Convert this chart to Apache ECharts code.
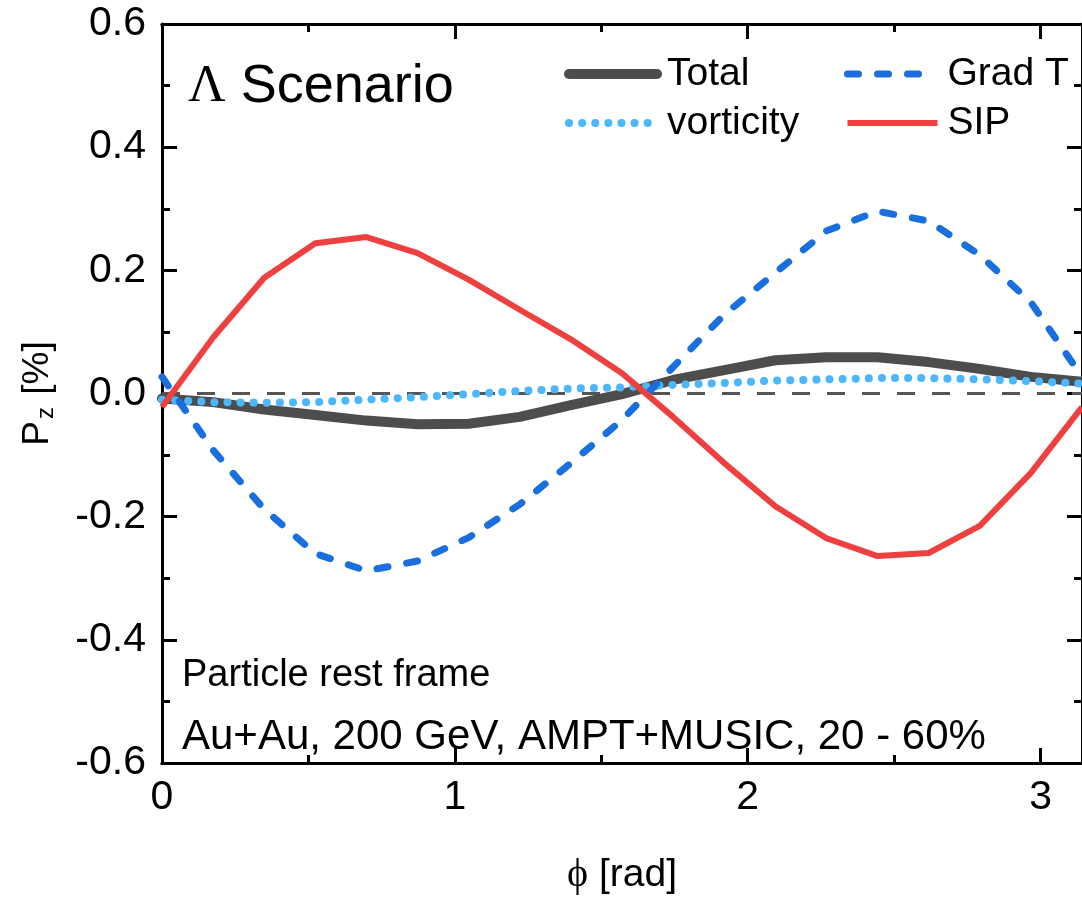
<!DOCTYPE html>
<html>
<head>
<meta charset="utf-8">
<title>Lambda polarization P_z vs azimuthal angle</title>
<script src="https://cdn.jsdelivr.net/npm/echarts@6/dist/echarts.min.js"></script>
<style>
  html, body { margin: 0; padding: 0; background: #ffffff; }
  #chart { width: 1082px; height: 900px; }
</style>
</head>
<body>
<div id="chart"></div>
<script>
// Azimuthal angle phi [rad], sampled in steps of pi/18 from 0 to pi
const phi = [0.0000, 0.1745, 0.3491, 0.5236, 0.6981, 0.8727, 1.0472, 1.2217, 1.3963, 1.5708,
             1.7453, 1.9199, 2.0944, 2.2689, 2.4435, 2.6180, 2.7925, 2.9671, 3.1416];

// Longitudinal polarization P_z [%] for each contribution
const total = [-0.008, -0.014, -0.026, -0.035, -0.044, -0.050, -0.049, -0.038, -0.019, -0.001,
               0.022, 0.038, 0.054, 0.059, 0.059, 0.051, 0.040, 0.027, 0.019];
const vorticity = [-0.010, -0.014, -0.015, -0.014, -0.010, -0.006, -0.001, 0.004, 0.008, 0.010,
                   0.014, 0.017, 0.021, 0.023, 0.025, 0.025, 0.023, 0.020, 0.016];
const gradT = [0.027, -0.092, -0.188, -0.260, -0.288, -0.272, -0.234, -0.180, -0.113, -0.043,
               0.043, 0.128, 0.196, 0.264, 0.296, 0.280, 0.225, 0.148, 0.027];
const sip = [-0.022, 0.091, 0.188, 0.244, 0.254, 0.228, 0.185, 0.136, 0.088, 0.033,
             -0.038, -0.113, -0.183, -0.235, -0.264, -0.259, -0.215, -0.129, -0.022];

// Axis ranges and tick steps
const xRange = [0, Math.PI];
const yRange = [-0.6, 0.6];
const xMajor = 1, xMinor = 0.5;
const yMajor = 0.2;

const FONT = '"Liberation Sans", Arial, sans-serif';
const SERIF = '"Liberation Serif", "DejaVu Serif", serif';

// Line looks shared by the plotted curves and their legend entries
const styles = {
  'Total':     { color: '#4d4d4d', width: 10, type: 'solid', cap: 'round', join: 'round' },
  'vorticity': { color: '#4cb8fb', width: 8, type: [0.1, 13], cap: 'round', join: 'round' },
  'Grad T':    { color: '#1a6fdf', width: 7, type: [11, 19], cap: 'round', join: 'round' },
  'SIP':       { color: '#ef4040', width: 6, type: 'solid', cap: 'butt', join: 'round' }
};

const pairs = (ys) => phi.map((x, i) => [x, ys[i]]);

const chart = echarts.init(document.getElementById('chart'), null, { renderer: 'canvas' });

const axisLine = { show: true, onZero: false, lineStyle: { color: '#000', width: 3 } };

function xAx(position, interval, tickLen, labels) {
  return {
    type: 'value', position: position, min: xRange[0], max: xRange[1], interval: interval,
    axisLine: axisLine,
    axisTick: { show: true, inside: true, length: tickLen, lineStyle: { color: '#000', width: 3 } },
    axisLabel: labels ? {
      show: true, showMaxLabel: false, margin: 14, color: '#000', fontSize: 41, fontFamily: FONT,
      formatter: (v) => String(Math.round(v))
    } : { show: false },
    splitLine: { show: false }
  };
}

function yAx(position, labels) {
  return {
    type: 'value', position: position, min: yRange[0], max: yRange[1], interval: yMajor,
    axisLine: axisLine,
    axisTick: { show: true, inside: true, length: 15, lineStyle: { color: '#000', width: 3 } },
    minorTick: { show: true, splitNumber: 2, length: 8, lineStyle: { color: '#000', width: 3 } },
    axisLabel: labels ? {
      show: true, margin: 16, color: '#000', fontSize: 41, fontFamily: FONT,
      formatter: (v) => v.toFixed(1)
    } : { show: false },
    splitLine: { show: false }
  };
}

const xMain = xAx('bottom', xMajor, 15, true);
xMain.name = '{phi|\u03D5} [rad]';
xMain.nameLocation = 'middle';
xMain.nameGap = 92;
xMain.nameTextStyle = {
  color: '#000', fontSize: 39, fontFamily: FONT,
  rich: { phi: { fontSize: 40, fontFamily: SERIF, color: '#000' } }
};

const yMain = yAx('left', true);
yMain.name = '{p|P}{s|z}{p| [%]}';
yMain.nameLocation = 'middle';
yMain.nameGap = 104;
yMain.nameTextStyle = {
  color: '#000', fontSize: 36, fontFamily: FONT,
  rich: {
    p: { fontSize: 37, fontFamily: FONT, color: '#000', lineHeight: 40 },
    s: { fontSize: 24, fontFamily: FONT, color: '#000', verticalAlign: 'bottom', lineHeight: 30, padding: [0, 2, 0, 2] }
  }
};

function legendItem(name) {
  const s = styles[name];
  return {
    name: name,
    itemStyle: { opacity: 0, borderWidth: 0 },
    lineStyle: { color: s.color, width: s.width, type: s.type, cap: s.cap, opacity: 1 }
  };
}

const legendText = { color: '#000', fontSize: 39, fontFamily: FONT, lineHeight: 40, padding: [0, 0, 0, 5] };

function seriesOf(name, values, z) {
  const s = styles[name];
  return {
    name: name, type: 'line', data: pairs(values), symbol: 'none', color: s.color,
    lineStyle: { color: s.color, width: s.width, type: s.type, cap: s.cap, join: s.join }, z: z
  };
}

const option = {
  animation: false,
  backgroundColor: '#ffffff',
  grid: { left: 162, top: 24, width: 924, height: 745, containLabel: false },
  xAxis: [
    xMain,
    xAx('bottom', xMinor, 8, false),
    xAx('top', xMajor, 15, false),
    xAx('top', xMinor, 8, false)
  ],
  yAxis: [yMain, yAx('right', false)],
  legend: [
    {
      data: [legendItem('Total'), legendItem('vorticity')], orient: 'vertical', left: 564, top: 54, padding: 0,
      itemWidth: 88, itemHeight: 14, itemGap: 9, textStyle: legendText
    },
    {
      data: [legendItem('Grad T'), legendItem('SIP')], orient: 'vertical', left: 844, top: 54, padding: 0,
      itemWidth: 90, itemHeight: 14, itemGap: 9, textStyle: legendText
    }
  ],
  graphic: [
    {
      type: 'text', left: 188, top: 60,
      style: {
        text: '{l|\u039B} Scenario', fill: '#000', font: '54px ' + FONT,
        rich: { l: { fontSize: 52, fontFamily: SERIF, fill: '#000' } }
      }
    },
    { type: 'text', left: 182, top: 657, style: { text: 'Particle rest frame', fill: '#000', font: '38px ' + FONT } },
    { type: 'text', left: 182, top: 716, style: { text: 'Au+Au, 200 GeV, AMPT+MUSIC, 20 - 60%', fill: '#000', font: '42px ' + FONT } }
  ],
  series: [
    {
      name: 'zero', type: 'line', data: pairs(phi.map(() => 0)), symbol: 'none', silent: true,
      lineStyle: { color: '#555555', width: 3, type: [18, 17] }, z: 1
    },
    seriesOf('Total', total, 2),
    seriesOf('vorticity', vorticity, 3),
    seriesOf('Grad T', gradT, 4),
    seriesOf('SIP', sip, 5)
  ]
};

chart.setOption(option);
</script>
</body>
</html>
